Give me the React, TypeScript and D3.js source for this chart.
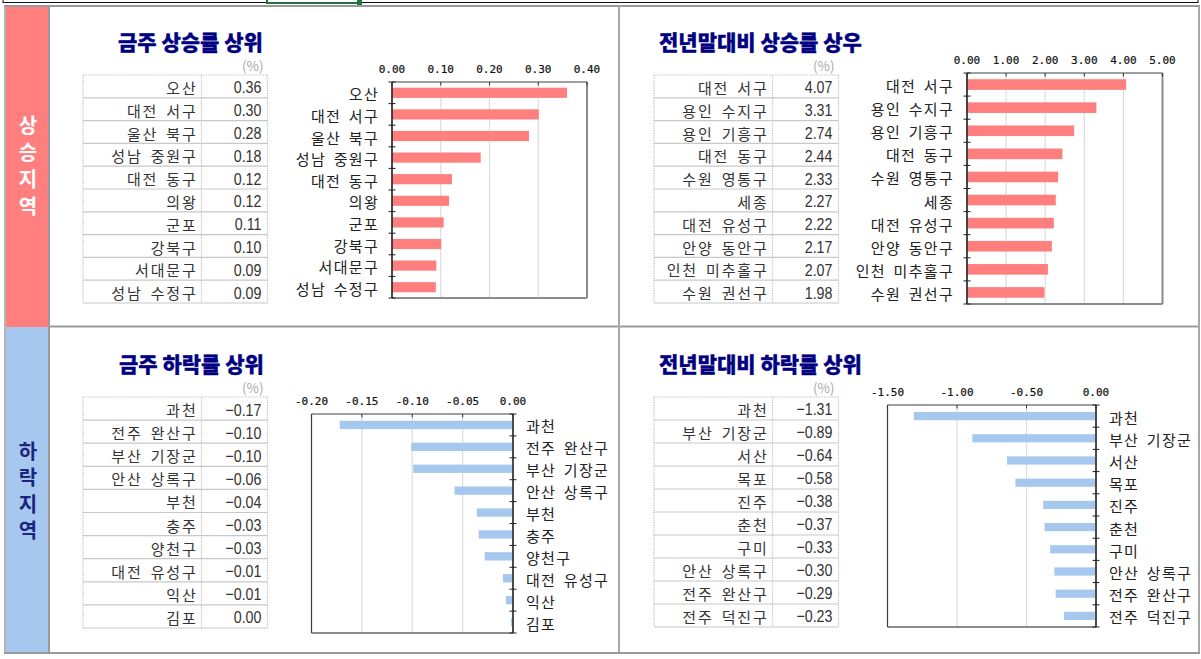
import * as d3 from "d3";

// 금주 상승률 상위
const weekUpNames = ["오산", "대전 서구", "울산 북구", "성남 중원구", "대전 동구", "의왕", "군포", "강북구", "서대문구", "성남 수정구"];
const weekUpValues = [0.359, 0.301, 0.281, 0.182, 0.123, 0.117, 0.106, 0.101, 0.091, 0.09];
const weekUpTicks = [0, 0.1, 0.2, 0.3, 0.4];

// 전년말대비 상승률 상위
const yearUpNames = ["대전 서구", "용인 수지구", "용인 기흥구", "대전 동구", "수원 영통구", "세종", "대전 유성구", "안양 동안구", "인천 미추홀구", "수원 권선구"];
const yearUpValues = [4.07, 3.31, 2.74, 2.44, 2.33, 2.27, 2.22, 2.17, 2.07, 1.98];
const yearUpTicks = [0, 1, 2, 3, 4, 5];

// 금주 하락률 상위
const weekDownNames = ["과천", "전주 완산구", "부산 기장군", "안산 상록구", "부천", "충주", "양천구", "대전 유성구", "익산", "김포"];
const weekDownValues = [-0.172, -0.101, -0.099, -0.058, -0.036, -0.034, -0.028, -0.01, -0.007, -0.002];
const weekDownTicks = [-0.2, -0.15, -0.1, -0.05, 0];

// 전년말대비 하락률 상위
const yearDownNames = ["과천", "부산 기장군", "서산", "목포", "진주", "춘천", "구미", "안산 상록구", "전주 완산구", "전주 덕진구"];
const yearDownValues = [-1.31, -0.89, -0.64, -0.58, -0.38, -0.37, -0.33, -0.3, -0.29, -0.23];
const yearDownTicks = [-1.5, -1, -0.5, 0];

const KR = "'Noto Sans CJK KR', 'Noto Sans', sans-serif";
const NUM = "'Liberation Sans Narrow', 'Liberation Sans', Arial, sans-serif";
const MONO = "'DejaVu Sans Mono', monospace";

const RED = "#ff7f7f";
const BLUE = "#a6c8ef";
const NAVY = "#000080";

const fmt = d3.format(".2f");
const tickFmt = (v: number) => fmt(v).replace("\u2212", "-");

interface PanelProps {
  title: string;
  names: string[];
  values: number[];
  ticks: number[];
  color: string;
  barRatio: number;
  labelsRight: boolean;
  titleX: number;
  titleY: number;
  tableX: number;
  tableY: number;
  rowH: number;
  plotX0: number;
  plotX1: number;
  plotY0: number;
  plotY1: number;
  tickY: number;
}

function Panel(p: PanelProps) {
  const nameW = 118.5;
  const valW = 66;
  const divX = p.tableX + nameW;
  const rightX = divX + valW;
  const n = p.names.length;

  const x = d3
    .scaleLinear()
    .domain(d3.extent(p.ticks) as [number, number])
    .range([p.plotX0, p.plotX1]);

  const pad = 1 - p.barRatio;
  const y = d3
    .scaleBand()
    .domain(p.names)
    .range([p.plotY0, p.plotY1])
    .paddingInner(pad)
    .paddingOuter(pad / 2);
  const step = y.step();

  const zeroX = x(0);
  const rows = d3.range(n + 1);

  return (
    <g>
      {/* title */}
      <text
        x={p.titleX}
        y={p.titleY}
        dominantBaseline="central"
        fontFamily={KR}
        fontWeight={900}
        fontSize={21}
        fill={NAVY}
        stroke={NAVY}
        strokeWidth={0.3}
      >
        {p.title}
      </text>
      <text
        x={rightX - 4}
        y={p.titleY + 24}
        textAnchor="end"
        dominantBaseline="central"
        fontFamily={KR}
        fontSize={13.5}
        fill="#aaa"
      >
        (%)
      </text>

      {/* table */}
      {rows.map((i) => (
        <line
          key={"h" + i}
          x1={p.tableX}
          x2={rightX}
          y1={p.tableY + i * p.rowH}
          y2={p.tableY + i * p.rowH}
          stroke="#c8c8c8"
          strokeWidth={1.2}
          strokeDasharray={i === 0 ? "1.5,1" : undefined}
        />
      ))}
      {[p.tableX, divX, rightX].map((vx) => (
        <line
          key={"v" + vx}
          x1={vx}
          x2={vx}
          y1={p.tableY}
          y2={p.tableY + n * p.rowH}
          stroke="#c8c8c8"
          strokeWidth={1.2}
          strokeDasharray="1.5,1"
        />
      ))}
      {p.names.map((name, i) => {
        const cy = p.tableY + (i + 0.5) * p.rowH + 1;
        return (
          <g key={"r" + i}>
            <text
              x={divX - 4}
              y={cy}
              textAnchor="end"
              dominantBaseline="central"
              fontFamily={KR}
              fontSize={15}
              letterSpacing={1.8}
              wordSpacing={3}
              fill="#333"
            >
              {name}
            </text>
            <text
              transform={`translate(${rightX - 6},${cy}) scale(0.84,1)`}
              textAnchor="end"
              dominantBaseline="central"
              fontFamily={NUM}
              fontSize={17}
              fill="#333"
            >
              {fmt(p.values[i])}
            </text>
          </g>
        );
      })}

      {/* chart gridlines */}
      {p.ticks.map((t) => (
        <line
          key={"g" + t}
          x1={x(t)}
          x2={x(t)}
          y1={p.plotY0}
          y2={p.plotY1}
          stroke="#dcdcdc"
          strokeWidth={1.2}
        />
      ))}
      {/* bars */}
      {p.names.map((name, i) => {
        const v = p.values[i];
        const bx = Math.min(x(v), zeroX);
        return (
          <rect
            key={"b" + i}
            x={bx}
            y={y(name)}
            width={Math.abs(x(v) - zeroX)}
            height={y.bandwidth()}
            fill={p.color}
          />
        );
      })}
      {/* frame */}
      <line x1={p.plotX0} x2={p.plotX1} y1={p.plotY1} y2={p.plotY1} stroke="#8c8c8c" strokeWidth={2} />
      <line x1={p.plotX1} x2={p.plotX1} y1={p.plotY0} y2={p.plotY1} stroke="#8c8c8c" strokeWidth={2} />
      <line x1={p.plotX0} x2={p.plotX1} y1={p.plotY0} y2={p.plotY0} stroke="#404040" strokeWidth={1.2} />
      <line x1={p.plotX0} x2={p.plotX0} y1={p.plotY0} y2={p.plotY1} stroke="#404040" strokeWidth={1.2} />
      <line x1={zeroX} x2={zeroX} y1={p.plotY0} y2={p.plotY1} stroke="#222" strokeWidth={1.2} />
      {/* top value ticks */}
      {p.ticks.map((t) => (
        <g key={"t" + t}>
          <line x1={x(t)} x2={x(t)} y1={p.plotY0} y2={p.plotY0 + 3.5} stroke="#333" strokeWidth={1} />
          <text
            x={x(t)}
            y={p.tickY}
            textAnchor="middle"
            dominantBaseline="central"
            fontFamily={MONO}
            fontSize={11}
            fill="#111"
            stroke="#111"
            strokeWidth={0.2}
          >
            {tickFmt(t)}
          </text>
        </g>
      ))}
      {/* category ticks */}
      {rows.map((i) => (
        <line
          key={"c" + i}
          x1={zeroX - 3.5}
          x2={zeroX + 3.5}
          y1={p.plotY0 + i * step}
          y2={p.plotY0 + i * step}
          stroke="#222"
          strokeWidth={1}
        />
      ))}
      {/* category labels */}
      {p.names.map((name) => (
        <text
          key={"l" + name}
          x={p.labelsRight ? p.plotX1 + 13 : p.plotX0 - 13}
          y={(y(name) || 0) + y.bandwidth() / 2 + 1}
          textAnchor={p.labelsRight ? "start" : "end"}
          dominantBaseline="central"
          fontFamily={KR}
          fontSize={15}
          letterSpacing={1.3}
          wordSpacing={3}
          fill="#222"
        >
          {name}
        </text>
      ))}
    </g>
  );
}

function SideLabel({ chars, x, y0, gap, color }: { chars: string; x: number; y0: number; gap: number; color: string }) {
  return (
    <g>
      {chars.split("").map((c, i) => (
        <text
          key={i}
          x={x}
          y={y0 + i * gap}
          textAnchor="middle"
          dominantBaseline="central"
          fontFamily={KR}
          fontWeight={700}
          fontSize={20}
          fill={color}
        >
          {c}
        </text>
      ))}
    </g>
  );
}

export default function App() {
  return (
    <svg
      width={1201}
      height={659}
      style={{ position: "absolute", left: 0, top: 0, background: "#fff" }}
    >
      {/* spreadsheet remnants at top */}
      <rect x={3} y={-6} width={1195} height={8.5} fill="none" stroke="#111" strokeWidth={1} />
      <rect x={267} y={-4} width={92} height={7} fill="none" stroke="#217346" strokeWidth={2} />
      <rect x={357} y={0} width={5} height={5} fill="#217346" />

      {/* side bands */}
      <rect x={6} y={7} width={42} height={320} fill={RED} />
      <rect x={6} y={327} width={42} height={326} fill={BLUE} />
      <SideLabel chars="상승지역" x={28} y0={124} gap={27} color="#fff" />
      <SideLabel chars="하락지역" x={28} y0={450} gap={26.5} color="#1a2580" />

      {/* frame */}
      <line x1={5} x2={5} y1={6} y2={654} stroke="#b4b4b4" strokeWidth={2} />
      <line x1={49} x2={49} y1={6} y2={654} stroke="#9a9a9a" strokeWidth={2} />
      <line x1={4} x2={1200} y1={6} y2={6} stroke="#9a9a9a" strokeWidth={2} />
      <line x1={49} x2={1200} y1={326.5} y2={326.5} stroke="#9a9a9a" strokeWidth={2} />
      <line x1={619} x2={619} y1={6} y2={654} stroke="#a8a8a8" strokeWidth={2} />
      <line x1={1199} x2={1199} y1={6} y2={654} stroke="#a8a8a8" strokeWidth={2} />
      <line x1={4} x2={1200} y1={653} y2={653} stroke="#9a9a9a" strokeWidth={2} />

      <Panel
        title="금주 상승률 상위"
        names={weekUpNames}
        values={weekUpValues}
        ticks={weekUpTicks}
        color={RED}
        barRatio={0.47}
        labelsRight={false}
        titleX={118}
        titleY={41}
        tableX={83}
        tableY={75}
        rowH={22.8}
        plotX0={392}
        plotX1={587}
        plotY0={82}
        plotY1={298}
        tickY={69}
      />
      <Panel
        title="전년말대비 상승률 상우"
        names={yearUpNames}
        values={yearUpValues}
        ticks={yearUpTicks}
        color={RED}
        barRatio={0.46}
        labelsRight={false}
        titleX={659}
        titleY={41}
        tableX={654}
        tableY={75}
        rowH={22.8}
        plotX0={967}
        plotX1={1162.5}
        plotY0={73}
        plotY1={304}
        tickY={60}
      />
      <Panel
        title="금주 하락률 상위"
        names={weekDownNames}
        values={weekDownValues}
        ticks={weekDownTicks}
        color={BLUE}
        barRatio={0.38}
        labelsRight={true}
        titleX={119}
        titleY={363}
        tableX={83}
        tableY={397}
        rowH={23.1}
        plotX0={311.5}
        plotX1={513}
        plotY0={414}
        plotY1={633}
        tickY={401}
      />
      <Panel
        title="전년말대비 하락률 상위"
        names={yearDownNames}
        values={yearDownValues}
        ticks={yearDownTicks}
        color={BLUE}
        barRatio={0.37}
        labelsRight={true}
        titleX={659}
        titleY={363}
        tableX={654}
        tableY={397}
        rowH={23}
        plotX0={887.5}
        plotX1={1096}
        plotY0={405}
        plotY1={627}
        tickY={392}
      />
    </svg>
  );
}
